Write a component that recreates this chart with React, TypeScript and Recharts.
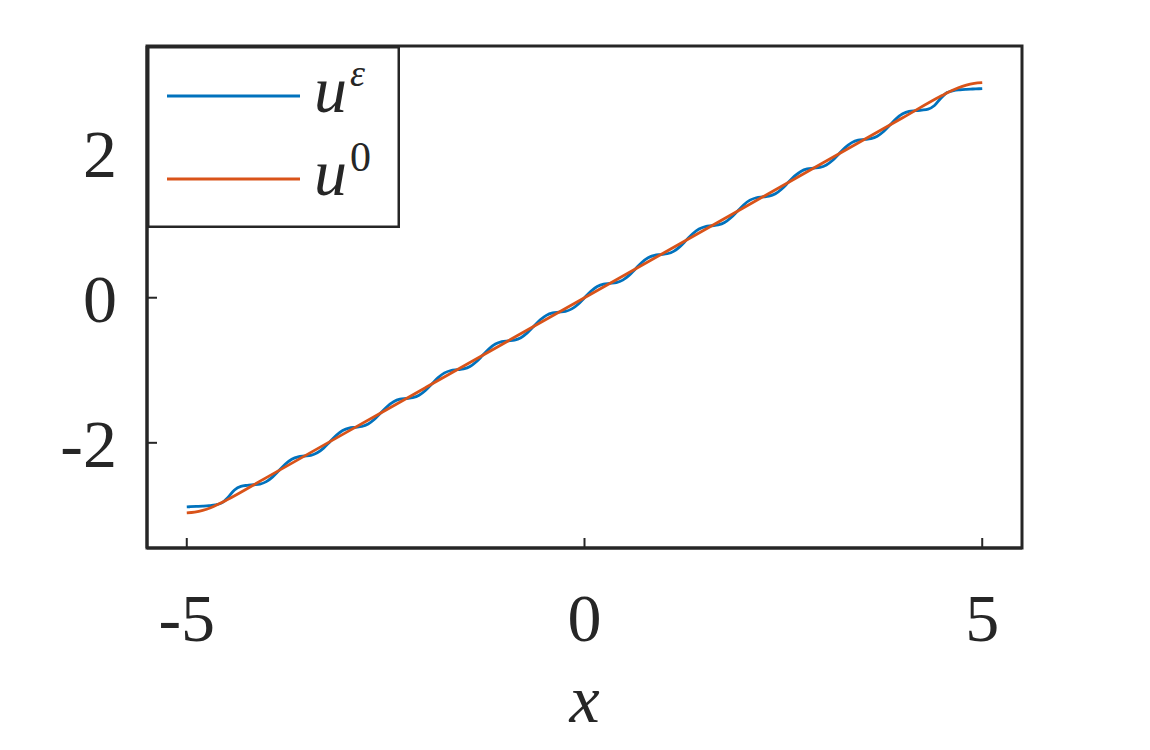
import { LineChart, Line, XAxis, YAxis, Legend, ReferenceArea } from "recharts";

const FONT = "'Times New Roman', Times, 'Liberation Serif', 'DejaVu Serif', 'Noto Serif', serif";
const INK = "#262626";
const BLUE = "#0072BD";
const ORANGE = "#D95319";

// u^eps (staircase around u^0)
const uEpsX = [
  -5, -4.96, -4.88, -4.8, -4.72, -4.64, -4.56, -4.48, -4.4, -4.32, -4.24, -4.16, -4.08,
  -4, -3.92, -3.84, -3.76, -3.68, -3.6, -3.52, -3.44, -3.36, -3.28, -3.2, -3.12, -3.04,
  -2.96, -2.88, -2.8, -2.72, -2.64, -2.56, -2.48, -2.4, -2.32, -2.24, -2.16, -2.08,
  -2, -1.92, -1.84, -1.76, -1.68, -1.6, -1.52, -1.44, -1.36, -1.28, -1.2, -1.12, -1.04,
  -0.96, -0.88, -0.8, -0.72, -0.64, -0.56, -0.48, -0.4, -0.32, -0.24, -0.16, -0.08,
  0, 0.08, 0.16, 0.24, 0.32, 0.4, 0.48, 0.56, 0.64, 0.72, 0.8, 0.88, 0.96,
  1.04, 1.12, 1.2, 1.28, 1.36, 1.44, 1.52, 1.6, 1.68, 1.76, 1.84, 1.92, 2,
  2.08, 2.16, 2.24, 2.32, 2.4, 2.48, 2.56, 2.64, 2.72, 2.8, 2.88, 2.96,
  3.04, 3.12, 3.2, 3.28, 3.36, 3.44, 3.52, 3.6, 3.68, 3.76, 3.84, 3.92, 4,
  4.08, 4.16, 4.24, 4.32, 4.4, 4.48, 4.56, 4.64, 4.72, 4.8, 4.88, 4.96, 5,
];
const uEpsY = [
  -2.883, -2.881, -2.877, -2.873, -2.867, -2.856, -2.828, -2.75, -2.65, -2.6, -2.586, -2.578, -2.569,
  -2.535, -2.469, -2.381, -2.292, -2.227, -2.193, -2.182, -2.172, -2.138, -2.073, -1.984, -1.895, -1.83,
  -1.796, -1.786, -1.775, -1.741, -1.676, -1.587, -1.499, -1.433, -1.399, -1.389, -1.378, -1.345,
  -1.279, -1.19, -1.102, -1.036, -1.003, -0.992, -0.981, -0.948, -0.882, -0.794, -0.705, -0.639, -0.606,
  -0.595, -0.585, -0.551, -0.485, -0.397, -0.308, -0.243, -0.209, -0.198, -0.188, -0.154, -0.089,
  0, 0.089, 0.154, 0.188, 0.198, 0.209, 0.243, 0.308, 0.397, 0.485, 0.551, 0.585, 0.595,
  0.606, 0.639, 0.705, 0.794, 0.882, 0.948, 0.981, 0.992, 1.003, 1.036, 1.102, 1.19, 1.279,
  1.345, 1.378, 1.389, 1.399, 1.433, 1.499, 1.587, 1.676, 1.741, 1.775, 1.786, 1.796,
  1.83, 1.895, 1.984, 2.073, 2.138, 2.172, 2.182, 2.193, 2.227, 2.292, 2.381, 2.469, 2.535,
  2.569, 2.578, 2.586, 2.6, 2.65, 2.75, 2.828, 2.856, 2.867, 2.873, 2.877, 2.881, 2.883,
];

// u^0, nearly straight, bending at both ends
const u0X = [-5, -4.9, -4.8, -4.7, -4.6, -4.5, -4, -3, -2, -1, 0, 1, 2, 3, 4, 4.5, 4.6, 4.7, 4.8, 4.9, 5];
const u0Y = [
  -2.965, -2.955, -2.932, -2.895, -2.845, -2.79, -2.48, -1.86, -1.24, -0.62, 0,
  0.62, 1.24, 1.86, 2.48, 2.79, 2.845, 2.895, 2.932, 2.955, 2.965,
];

const xTicks = [-5, 0, 5];
const yTicks = [-2, 0, 2];
const xDomain = [-5.5, 5.5];
const yDomain = [-3.45, 3.47];

const uEpsData = uEpsX.map((x, i) => ({ x, y: uEpsY[i] }));
const u0Data = u0X.map((x, i) => ({ x, y: u0Y[i] }));

const textStyle = { fontFamily: FONT };

function LegendBox() {
  return (
    <svg width={253} height={182} style={{ display: "block" }}>
      <rect x={1.25} y={1.25} width={250.5} height={179.5} fill="#fff" stroke={INK} strokeWidth={2.5} />
      <line x1={20} x2={153} y1={50} y2={50} stroke={BLUE} strokeWidth={2.8} />
      <text x={167} y={66} fontSize={66} fontStyle="italic" style={textStyle} fill={INK}>
        u
        <tspan fontSize={38} dy={-26} dx={3}>ε</tspan>
      </text>
      <line x1={20} x2={153} y1={133} y2={133} stroke={ORANGE} strokeWidth={2.8} />
      <text x={167} y={149} fontSize={66} fontStyle="italic" style={textStyle} fill={INK}>
        u
        <tspan fontSize={42} fontStyle="normal" dy={-24} dx={3}>0</tspan>
      </text>
    </svg>
  );
}

export default function App() {
  return (
    <div style={{ position: "absolute", left: 0, top: 0, width: 1150, height: 750, background: "#fff", fontFamily: FONT }}>
      <LineChart width={1150} height={750} margin={{ top: 46, right: 128, bottom: 0, left: 0 }} style={textStyle}>
        <XAxis
          type="number"
          dataKey="x"
          domain={xDomain}
          ticks={xTicks}
          height={202}
          stroke={INK}
          axisLine={{ stroke: INK, strokeWidth: 3 }}
          tickLine={{ stroke: INK, strokeWidth: 2 }}
          tickSize={-10}
          tickMargin={55}
          tick={{ fontSize: 68, fill: INK, style: textStyle }}
          label={{
            value: "x",
            position: "insideBottom",
            offset: 28,
            fontSize: 68,
            fontStyle: "italic",
            fill: INK,
            style: textStyle,
          }}
        />
        <YAxis
          type="number"
          dataKey="y"
          domain={yDomain}
          ticks={yTicks}
          width={147}
          stroke={INK}
          axisLine={{ stroke: INK, strokeWidth: 3 }}
          tickLine={{ stroke: INK, strokeWidth: 2 }}
          tickSize={-10}
          tickMargin={40}
          tick={{ fontSize: 68, fill: INK, style: textStyle }}
        />
        <ReferenceArea
          x1={xDomain[0]}
          x2={xDomain[1]}
          y1={yDomain[0]}
          y2={yDomain[1]}
          fill="none"
          stroke={INK}
          strokeWidth={3}
        />
        <Line
          data={uEpsData}
          dataKey="y"
          type="monotone"
          stroke={BLUE}
          strokeWidth={2.8}
          dot={false}
          isAnimationActive={false}
        />
        <Line
          data={u0Data}
          dataKey="y"
          type="monotone"
          stroke={ORANGE}
          strokeWidth={2.8}
          dot={false}
          isAnimationActive={false}
        />
        <Legend
          layout="vertical"
          align="center"
          verticalAlign="middle"
          wrapperStyle={{ left: 147, top: 46, width: 253, height: 182 }}
          content={() => <LegendBox />}
        />
      </LineChart>
    </div>
  );
}
